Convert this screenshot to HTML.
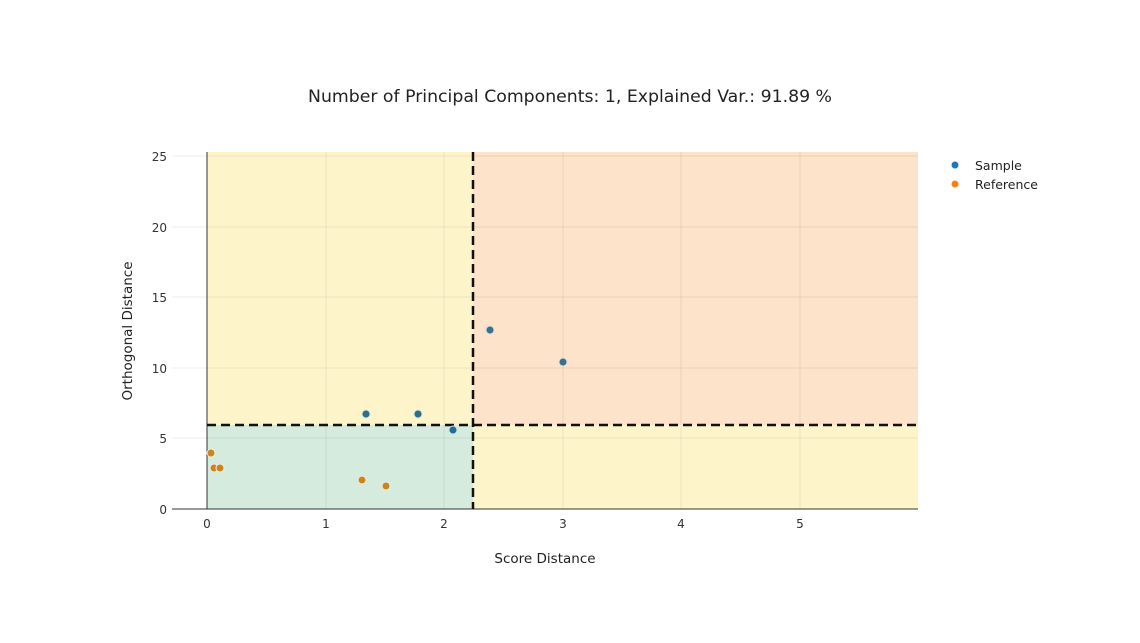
<!DOCTYPE html>
<html><head><style>body{margin:0;background:#fff}svg{display:block;font-family:"DejaVu Sans",Verdana,sans-serif}</style></head>
<body>
<svg width="1140" height="643" viewBox="0 0 1140 643">
<rect width="1140" height="643" fill="#fff"/>
<text x="570" y="102" text-anchor="middle" font-size="17.3" fill="#222">Number of Principal Components: 1, Explained Var.: 91.89 %</text>
<rect x="207" y="152" width="266" height="273" fill="#fdf5c9"/>
<rect x="473" y="152" width="445" height="273" fill="#fce3c9"/>
<rect x="207" y="425" width="266" height="84" fill="#d5ebdd"/>
<rect x="473" y="425" width="445" height="84" fill="#fdf5c9"/>
<g stroke="#000" stroke-opacity="0.07" stroke-width="1">
<line x1="326" y1="152" x2="326" y2="509"/><line x1="444" y1="152" x2="444" y2="509"/>
<line x1="563" y1="152" x2="563" y2="509"/><line x1="681" y1="152" x2="681" y2="509"/>
<line x1="800" y1="152" x2="800" y2="509"/>
<line x1="172" y1="438" x2="918" y2="438"/><line x1="172" y1="368" x2="918" y2="368"/>
<line x1="172" y1="297" x2="918" y2="297"/><line x1="172" y1="227" x2="918" y2="227"/>
<line x1="172" y1="156" x2="918" y2="156"/>
</g>
<line x1="172" y1="509" x2="918" y2="509" stroke="#333" stroke-width="1"/>
<line x1="207" y1="152" x2="207" y2="509" stroke="#333" stroke-width="1"/>
<line x1="473" y1="152" x2="473" y2="509" stroke="#111" stroke-width="2.5" stroke-dasharray="9,5"/>
<line x1="207" y1="425" x2="918" y2="425" stroke="#111" stroke-width="2.5" stroke-dasharray="9,5"/>
<g font-size="12" fill="#333" text-anchor="middle">
<text x="207" y="528">0</text><text x="326" y="528">1</text><text x="444" y="528">2</text>
<text x="563" y="528">3</text><text x="681" y="528">4</text><text x="800" y="528">5</text>
</g>
<g font-size="12" fill="#333" text-anchor="end">
<text x="167" y="514">0</text><text x="167" y="443">5</text><text x="167" y="373">10</text>
<text x="167" y="302">15</text><text x="167" y="232">20</text><text x="167" y="161">25</text>
</g>
<text x="545" y="563" text-anchor="middle" font-size="13.5" fill="#222">Score Distance</text>
<text x="132" y="331" text-anchor="middle" font-size="13.5" fill="#222" transform="rotate(-90 132 331)">Orthogonal Distance</text>
<g stroke="#ddd" stroke-width="1" fill="#2c7088">
<circle cx="366" cy="414" r="4"/><circle cx="418" cy="414" r="4"/><circle cx="453" cy="430" r="4" fill="#1f6e9a"/>
<circle cx="490" cy="330" r="4" fill="#3b728a"/><circle cx="563" cy="362" r="4" fill="#3b728a"/>
</g>
<g stroke="#eee" stroke-width="1" fill="#cc8518">
<circle cx="211" cy="453" r="4"/><circle cx="214" cy="468" r="4"/><circle cx="220" cy="468" r="4"/>
<circle cx="362" cy="480" r="4"/><circle cx="386" cy="486" r="4"/>
</g>
<circle cx="955" cy="165" r="3.5" fill="#1f77b4"/>
<text x="975" y="170" font-size="12.5" fill="#222">Sample</text>
<circle cx="955" cy="184" r="3.5" fill="#ff7f0e"/>
<text x="975" y="189" font-size="12.5" fill="#222">Reference</text>
</svg>
</body></html>
